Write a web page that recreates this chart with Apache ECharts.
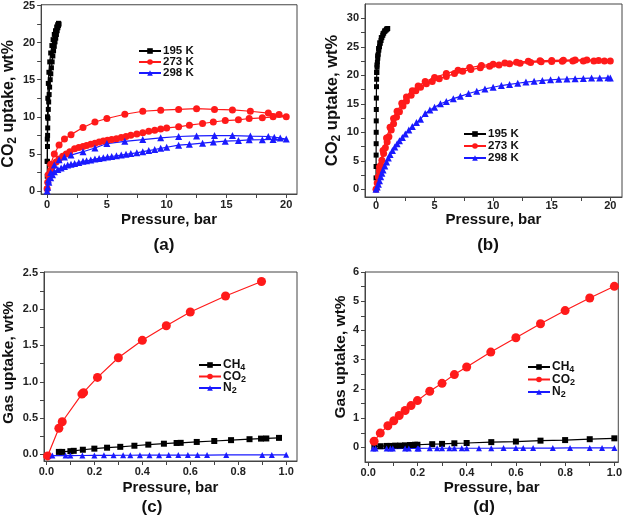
<!DOCTYPE html>
<html>
<head>
<meta charset="utf-8">
<script src="https://cdn.jsdelivr.net/npm/echarts@6/dist/echarts.min.js"></script>
<style>
  html, body { margin: 0; padding: 0; background: #fff; }
  #chart { width: 625px; height: 517px; }
</style>
</head>
<body>
<div id="chart"></div>
<script>
  // ---------- data: [pressure (bar), uptake (wt%)] ----------
  // (a) CO2 isotherms, adsorption then desorption
  var a195 = [[0, 0.3], [0.01, 2], [0.02, 4], [0.03, 6], [0.04, 7.5], [0.05, 8.5], [0.07, 9.8], [0.1, 11], [0.13, 12], [0.17, 13], [0.21, 14], [0.26, 15], [0.31, 15.8], [0.36, 16.6], [0.42, 17.4], [0.48, 18.2], [0.54, 18.9], [0.6, 19.5], [0.66, 20.1], [0.72, 20.6], [0.78, 21.1], [0.84, 21.6], [0.9, 22], [0.95, 22.3], [1.0, 22.5],
    [0.95, 22.6], [0.88, 22.4], [0.8, 22.1], [0.7, 21.6], [0.6, 21.1], [0.5, 20.4], [0.4, 19.6], [0.3, 18.6], [0.22, 17.4], [0.15, 16], [0.1, 14.5], [0.06, 12.5], [0.03, 10], [0.015, 7], [0.005, 4]]
  var a273 = [[0, 0.3], [0.05, 1.2], [0.15, 2.0], [0.3, 2.8], [0.5, 3.4], [0.75, 3.9], [1.0, 4.3], [1.3, 4.7], [1.6, 5.0], [1.9, 5.3], [2.3, 5.7], [2.65, 5.85], [3.0, 6.0], [3.3, 6.15], [3.65, 6.3], [4.0, 6.45], [4.35, 6.6], [4.7, 6.75], [5.05, 6.85], [5.4, 6.95], [5.8, 7.05], [6.2, 7.2], [6.6, 7.35], [7.0, 7.5], [7.5, 7.7], [8.0, 7.85], [8.5, 8.05], [9.0, 8.2], [9.5, 8.35], [10.0, 8.5], [11.0, 8.65], [11.9, 8.87], [13.0, 9.1], [13.9, 9.3], [14.9, 9.5], [16.0, 9.6], [16.9, 9.77], [18.0, 9.86], [18.9, 10.0], [20.0, 10.0],
    [19.4, 10.3], [18.5, 10.5], [17.0, 10.75], [15.5, 10.93], [14.0, 11.0], [12.5, 11.1], [11.0, 11.0], [9.5, 10.9], [8.0, 10.75], [6.5, 10.35], [5.0, 9.77], [4.0, 9.3], [3.0, 8.56], [2.0, 7.6], [1.45, 7.0], [1.0, 6.2], [0.6, 5.0], [0.3, 3.6], [0.1, 2.2]]
  var a298 = [[0, 0], [0.05, 0.5], [0.15, 1.2], [0.3, 1.8], [0.45, 2.2], [0.6, 2.6], [0.9, 2.9], [1.17, 3.1], [1.45, 3.3], [1.72, 3.5], [2.0, 3.6], [2.3, 3.7], [2.65, 3.85], [3.0, 4.0], [3.3, 4.08], [3.65, 4.17], [4.0, 4.3], [4.35, 4.4], [4.7, 4.5], [5.05, 4.57], [5.4, 4.65], [5.8, 4.75], [6.2, 4.85], [6.6, 4.95], [7.0, 5.05], [7.5, 5.15], [8.0, 5.3], [8.5, 5.45], [9.0, 5.6], [9.5, 5.75], [10.0, 5.9], [11.0, 6.18], [11.9, 6.3], [13.0, 6.45], [13.9, 6.6], [14.9, 6.72], [16.0, 6.8], [16.9, 6.9], [18.0, 6.92], [18.9, 6.95], [20.0, 7.0],
    [19.5, 7.15], [19.0, 7.25], [18.5, 7.35], [17.0, 7.4], [15.5, 7.47], [14.0, 7.47], [12.5, 7.43], [11.0, 7.35], [9.5, 7.17], [8.0, 6.94], [6.5, 6.7], [5.0, 6.4], [4.0, 5.8], [3.0, 5.3], [2.0, 4.84], [1.45, 4.6], [1.0, 4.2], [0.6, 3.5], [0.3, 2.5], [0.1, 1.5]]

  // (b) CO2 isotherms
  var b195 = [[0, 0], [0.003, 2], [0.006, 4], [0.01, 6], [0.013, 8], [0.016, 10], [0.02, 12], [0.025, 14], [0.03, 16], [0.04, 18], [0.05, 19.3], [0.07, 20.5], [0.09, 21.4], [0.12, 22.3], [0.15, 23], [0.19, 23.7], [0.24, 24.4], [0.3, 25], [0.36, 25.6], [0.43, 26.1], [0.5, 26.6], [0.58, 27], [0.66, 27.4], [0.75, 27.7], [0.85, 27.9], [0.95, 28.1], [1.0, 28.2],
    [0.9, 28.1], [0.75, 27.8], [0.6, 27.3], [0.45, 26.6], [0.32, 25.7], [0.22, 24.7], [0.14, 23.4], [0.08, 21.8], [0.05, 20.5]]
  var b273 = [[0, 0], [0.1, 1.1], [0.2, 2.2], [0.3, 3.2], [0.4, 4.2], [0.5, 5.1], [0.65, 6.3], [0.8, 7.3], [0.95, 8.3], [1.1, 9.2], [1.3, 10.4], [1.5, 11.5], [1.75, 12.7], [2.0, 13.6], [2.3, 14.6], [2.6, 15.5], [3.0, 16.5], [3.4, 17.3], [3.8, 17.9], [4.3, 18.5], [4.8, 18.9], [5.4, 19.4], [6.0, 19.8], [6.7, 20.3], [7.4, 20.7], [8.1, 21.0], [8.9, 21.3], [9.7, 21.6], [10.5, 21.8], [11.4, 22.0], [12.3, 22.1], [13.2, 22.25], [14.1, 22.35], [15.0, 22.4], [15.9, 22.45], [16.8, 22.5], [17.7, 22.5], [18.6, 22.5], [19.5, 22.5], [20.0, 22.5],
    [19.0, 22.6], [18.0, 22.7], [17.0, 22.7], [16.0, 22.65], [15.0, 22.6], [14.0, 22.55], [13.0, 22.45], [12.0, 22.3], [11.0, 22.15], [10.0, 21.95], [9.0, 21.7], [8.0, 21.35], [7.0, 20.9], [6.0, 20.3], [5.0, 19.6], [4.2, 18.9], [3.6, 18.1], [3.1, 17.3], [2.6, 16.2], [2.2, 15.1], [1.8, 13.7], [1.5, 12.4], [1.2, 10.9], [0.9, 9.0], [0.6, 6.8], [0.3, 3.9]]
  var b298 = [[0, 0], [0.1, 0.4], [0.2, 0.9], [0.3, 1.5], [0.4, 2.2], [0.5, 2.8], [0.6, 3.4], [0.75, 4.1], [0.9, 4.8], [1.05, 5.5], [1.2, 6.1], [1.4, 6.8], [1.6, 7.4], [1.8, 8.0], [2.0, 8.5], [2.25, 9.1], [2.5, 9.7], [2.8, 10.4], [3.1, 11.0], [3.45, 11.7], [3.8, 12.3], [4.2, 13.3], [4.6, 13.9], [5.0, 14.4], [5.5, 15.0], [6.0, 15.4], [6.6, 15.9], [7.2, 16.3], [7.9, 16.8], [8.6, 17.2], [9.3, 17.6], [10.0, 17.9], [10.7, 18.2], [11.4, 18.4], [12.1, 18.6], [12.8, 18.8], [13.5, 18.95], [14.2, 19.1], [14.9, 19.2], [15.6, 19.3], [16.3, 19.35], [17.0, 19.4], [17.7, 19.45], [18.4, 19.5], [19.1, 19.5], [19.8, 19.55], [20.0, 19.5]]

  // (c) gas uptake, first material
  var cCO2 = [[0.005, -0.02], [0.052, 0.36], [0.066, 0.45], [0.148, 0.83], [0.155, 0.85], [0.213, 1.06], [0.3, 1.33], [0.4, 1.57], [0.5, 1.77], [0.6, 1.96], [0.747, 2.18], [0.897, 2.38]]
  var cCH4 = [[0.052, 0.035], [0.066, 0.035], [0.1, 0.045], [0.114, 0.05], [0.152, 0.065], [0.2, 0.08], [0.253, 0.093], [0.308, 0.105], [0.367, 0.12], [0.425, 0.135], [0.49, 0.148], [0.543, 0.158], [0.56, 0.16], [0.627, 0.172], [0.7, 0.185], [0.77, 0.197], [0.847, 0.21], [0.895, 0.218], [0.917, 0.22], [0.97, 0.228]]
  var cN2 = [[0.025, -0.015], [0.08, -0.015], [0.1, -0.015], [0.15, -0.014], [0.2, -0.013], [0.24, -0.012], [0.28, -0.012], [0.32, -0.011], [0.35, -0.011], [0.39, -0.01], [0.43, -0.01], [0.47, -0.01], [0.51, -0.009], [0.55, -0.009], [0.59, -0.008], [0.63, -0.008], [0.67, -0.008], [0.75, -0.007], [0.9, -0.006], [0.94, -0.006], [1.0, -0.005]]

  // (d) gas uptake, second material
  var dCO2 = [[0.024, 0.21], [0.049, 0.49], [0.08, 0.74], [0.104, 0.91], [0.126, 1.09], [0.15, 1.26], [0.174, 1.43], [0.2, 1.6], [0.25, 1.92], [0.3, 2.19], [0.35, 2.49], [0.4, 2.75], [0.498, 3.26], [0.6, 3.75], [0.7, 4.23], [0.8, 4.68], [0.9, 5.11], [1.0, 5.51]]
  var dCH4 = [[0.025, 0.03], [0.05, 0.04], [0.075, 0.05], [0.09, 0.05], [0.11, 0.06], [0.13, 0.06], [0.15, 0.07], [0.17, 0.08], [0.18, 0.08], [0.19, 0.09], [0.2, 0.09], [0.26, 0.11], [0.3, 0.12], [0.35, 0.14], [0.4, 0.15], [0.5, 0.18], [0.6, 0.2], [0.7, 0.23], [0.8, 0.25], [0.9, 0.28], [1.0, 0.31]]
  var dN2 = [[0.02, -0.04], [0.03, -0.04], [0.075, -0.04], [0.09, -0.04], [0.1, -0.04], [0.15, -0.035], [0.165, -0.035], [0.2, -0.035], [0.205, -0.035], [0.25, -0.03], [0.28, -0.03], [0.3, -0.03], [0.33, -0.03], [0.35, -0.03], [0.38, -0.03], [0.4, -0.03], [0.45, -0.03], [0.5, -0.03], [0.55, -0.025], [0.6, -0.025], [0.63, -0.025], [0.67, -0.025], [0.75, -0.025], [0.82, -0.02], [0.9, -0.02], [0.95, -0.02], [1.0, -0.02]]

  // tick values
  var tickA_x = [0, 5, 10, 15, 20]
  var minorA_x = [2.5, 7.5, 12.5, 17.5]
  var tickA_y = [0, 5, 10, 15, 20, 25]
  var minorA_y = [2.5, 7.5, 12.5, 17.5, 22.5]
  var tickB_y = [0, 5, 10, 15, 20, 25, 30]
  var minorB_y = [2.5, 7.5, 12.5, 17.5, 22.5, 27.5]
  var tickCD_x = [0, 0.2, 0.4, 0.6, 0.8, 1.0]
  var minorCD_x = [0.1, 0.3, 0.5, 0.7, 0.9]
  var tickC_y = [0, 0.5, 1.0, 1.5, 2.0, 2.5]
  var minorC_y = [0.25, 0.75, 1.25, 1.75, 2.25]
  var tickD_y = [0, 1, 2, 3, 4, 5, 6]
  var minorD_y = [0.5, 1.5, 2.5, 3.5, 4.5, 5.5]

  var FONT = 'Liberation Sans, Arial, sans-serif'
  var INK = '#111'
  var BLACK = '#000000'
  var RED = '#ff1a1a'
  var BLUE = '#1a1aff'

  // rich styles for subscripts (CO2, CH4, N2)
  function subRich (size) {
    return {
      t: { fontSize: size, fontWeight: 'bold', fontFamily: FONT, color: INK },
      s: { fontSize: Math.round(size * 0.72), fontWeight: 'bold', fontFamily: FONT, color: INK, padding: [Math.round(size * 0.5), 0, 0, 0] }
    }
  }
  function subName (name) {
    return name.replace(/^([A-Za-z]+)(\d)$/, '{t|$1}{s|$2}')
  }

  function xAxisOf (gi, min, max, major, minor, dec, margin, gap) {
    return {
      type: 'value',
      gridIndex: gi,
      min: min,
      max: max,
      name: 'Pressure, bar',
      nameLocation: 'middle',
      nameGap: gap,
      nameTextStyle: { fontSize: 15, fontWeight: 'bold', fontFamily: FONT, color: INK },
      axisLine: { show: true, onZero: false, lineStyle: { color: '#444', width: 1 } },
      axisTick: { show: true, inside: false, length: 4, customValues: major.concat(minor), lineStyle: { color: '#444', width: 1 } },
      axisLabel: {
        show: true,
        customValues: major,
        margin: margin,
        fontSize: 11,
        fontWeight: 'bold',
        fontFamily: FONT,
        color: '#222',
        formatter: function (v) { return v.toFixed(dec) }
      },
      splitLine: { show: false }
    }
  }

  function yAxisOf (gi, min, max, major, minor, dec, label, size, gap, pad) {
    return {
      type: 'value',
      gridIndex: gi,
      min: min,
      max: max,
      name: label,
      nameLocation: 'middle',
      nameRotate: 90,
      nameGap: gap,
      nameTextStyle: { rich: subRich(size), padding: pad },
      axisLine: { show: true, onZero: false, lineStyle: { color: '#444', width: 1 } },
      axisTick: { show: true, inside: false, length: 4, customValues: major.concat(minor), lineStyle: { color: '#444', width: 1 } },
      axisLabel: {
        show: true,
        customValues: major,
        margin: 6,
        fontSize: 11,
        fontWeight: 'bold',
        fontFamily: FONT,
        color: '#222',
        formatter: function (v) { return v.toFixed(dec) }
      },
      splitLine: { show: false }
    }
  }

  function line (name, data, gi, color, symbol, size) {
    return {
      name: name,
      type: 'line',
      xAxisIndex: gi,
      yAxisIndex: gi,
      data: data,
      symbol: symbol,
      symbolSize: size,
      showSymbol: true,
      color: color,
      itemStyle: { color: color },
      lineStyle: { color: color, width: 1.2 },
      clip: true
    }
  }

  function legendOf (names, left, top, size, gap) {
    return {
      data: names,
      orient: 'vertical',
      left: left,
      top: top,
      itemWidth: 22,
      itemHeight: 7,
      itemGap: gap,
      padding: 0,
      selectedMode: false,
      formatter: subName,
      textStyle: { fontSize: size, fontWeight: 'bold', fontFamily: FONT, color: INK, padding: [0, 0, 0, -3], rich: subRich(size) }
    }
  }

  function panelLabel (text, x, y) {
    return {
      type: 'text',
      x: x,
      y: y,
      style: { text: text, font: 'bold 17px ' + FONT, fill: INK, align: 'center', verticalAlign: 'middle' }
    }
  }

  var co2Name = '{t|CO}{s|2}{t| uptake, wt%}'
  var gasName = '{t|Gas uptake, wt%}'

  var option = {
    animation: false,
    backgroundColor: '#fff',
    grid: [
      { left: 40, top: 4, right: 328, bottom: 323, show: true, borderColor: '#444', borderWidth: 1 },
      { left: 365, top: 4, right: 3, bottom: 320, show: true, borderColor: '#444', borderWidth: 1 },
      { left: 40, top: 272, right: 328, bottom: 56, show: true, borderColor: '#444', borderWidth: 1 },
      { left: 365, top: 272, right: 2, bottom: 55, show: true, borderColor: '#444', borderWidth: 1 }
    ],
    xAxis: [
      xAxisOf(0, -0.5, 20.9, tickA_x, minorA_x, 0, 5, 18),
      xAxisOf(1, -0.94, 21.0, tickA_x, minorA_x, 0, 3, 12),
      xAxisOf(2, -0.01, 1.045, tickCD_x, minorCD_x, 1, 5, 19),
      xAxisOf(3, -0.013, 1.016, tickCD_x, minorCD_x, 1, 5, 18)
    ],
    yAxis: [
      yAxisOf(0, -0.4, 25.1, tickA_y, minorA_y, 0, co2Name, 16, 18, [0, 9, 0, 0]),
      yAxisOf(1, -1.35, 32.5, tickB_y, minorB_y, 0, co2Name, 16.5, 21, 0),
      yAxisOf(2, -0.09, 2.51, tickC_y, minorC_y, 1, gasName, 15.5, 27, [0, 0, 0, 8]),
      yAxisOf(3, -0.5, 6, tickD_y, minorD_y, 0, gasName, 15.5, 15, [0, 0, 0, 20])
    ],
    legend: [
      legendOf(['195 K', '273 K', '298 K'], 138, 45, 11.5, -1),
      legendOf(['195 K', '273 K', '298 K'], 463, 128, 11.5, 0),
      legendOf(['CH4', 'CO2', 'N2'], 198, 359, 12, -2),
      legendOf(['CH4', 'CO2', 'N2'], 527, 361, 12, -1)
    ],
    graphic: [
      panelLabel('(a)', 164, 245),
      panelLabel('(b)', 488, 245),
      panelLabel('(c)', 152, 507),
      panelLabel('(d)', 484, 507)
    ],
    series: [
      line('195 K', a195, 0, BLACK, 'rect', 5),
      line('273 K', a273, 0, RED, 'circle', 7),
      line('298 K', a298, 0, BLUE, 'triangle', 7),
      line('195 K', b195, 1, BLACK, 'rect', 5),
      line('273 K', b273, 1, RED, 'circle', 7),
      line('298 K', b298, 1, BLUE, 'triangle', 7),
      line('CH4', cCH4, 2, BLACK, 'rect', 6),
      line('CO2', cCO2, 2, RED, 'circle', 9),
      line('N2', cN2, 2, BLUE, 'triangle', 6),
      line('CH4', dCH4, 3, BLACK, 'rect', 6),
      line('CO2', dCO2, 3, RED, 'circle', 9),
      line('N2', dN2, 3, BLUE, 'triangle', 6)
    ]
  }

  var chart = echarts.init(document.getElementById('chart'))
  chart.setOption(option)
  window.addEventListener('resize', function () {
    chart.resize()
  })
</script>
</body>
</html>
